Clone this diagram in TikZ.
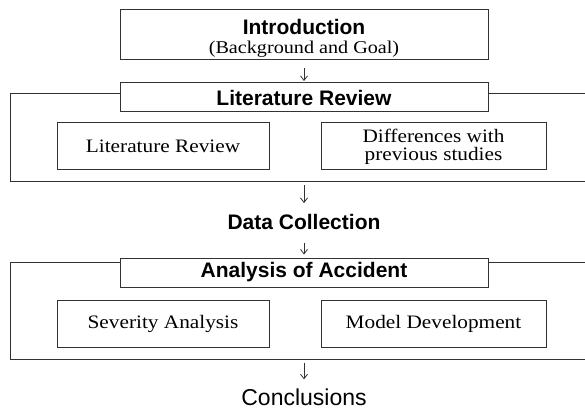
\documentclass[tikz,border=0pt]{standalone}
\usepackage{fontspec}
\setmainfont{Liberation Serif}[FakeStretch=1.12]
\setsansfont{Liberation Sans}
\usetikzlibrary{arrows.meta, positioning}
\definecolor{lineclr}{RGB}{50,50,50}
\tikzset{
  outer/.style={rectangle, draw=lineclr, line width=1pt, minimum width=588pt, inner sep=0pt},
  hdr/.style={rectangle, draw=lineclr, line width=1pt, fill=white, minimum width=368pt,
              minimum height=29pt, inner sep=0pt, font=\fontsize{21}{24}\selectfont\sffamily\bfseries},
  box/.style={rectangle, draw=lineclr, line width=1pt, fill=white, minimum height=47pt,
              inner sep=0pt, align=center, font=\fontsize{19}{18}\selectfont},
  lbl/.style={inner sep=0pt, font=\fontsize{21}{24}\selectfont\sffamily\bfseries},
  arr/.style={-{Straight Barb[length=4.5pt, width=7pt]}, line width=0.8pt, draw=lineclr}
}

\begin{document}
\begin{tikzpicture}[x=1pt, y=-1pt]
\clip (0,0) rectangle (585,411);
% frames behind the headers
\node[outer, minimum height=88pt] (f1) at (304,138) {};
\node[outer, minimum height=97pt] (f2) at (304,310.5) {};
% top box
\node[box, minimum width=368pt, minimum height=50pt, font=\fontsize{18}{19}\selectfont] (intro) at (304,35)
  {\rule{0pt}{21pt}{\sffamily\bfseries\fontsize{21}{19}\selectfont Introduction}\\(Background and Goal)};
% literature block
\node[hdr] (lh) at (304,97.5) {Literature Review};
\node[box, minimum width=212pt] (l1) at (163,146.5) {Literature Review};
\node[box, minimum width=225pt] (l2) at (433.5,146.5) {Differences with\\previous studies};
\node[lbl] (dc) at (304,222) {Data Collection};
% analysis block
\node[hdr] (ah) at (304,272.5) {Analysis of Accident};
\node[box, minimum width=212pt] (a1) at (163,323.5) {Severity Analysis};
\node[box, minimum width=225pt] (a2) at (433.5,323.5) {Model Development};
\node[lbl, font=\fontsize{23}{24}\selectfont\sffamily] (cc) at (304,397) {Conclusions};
\draw[arr, shorten <=8pt, shorten >=1.5pt] (intro) -- (lh);
\draw[arr, shorten <=3pt, shorten >=11pt] (f1.south -| dc) -- (dc);
\draw[arr, shorten <=13pt, shorten >=3pt] (dc) -- (ah);
\draw[arr, shorten <=3pt, shorten >=9pt] (f2.south -| cc) -- (cc);
\end{tikzpicture}
\end{document}
